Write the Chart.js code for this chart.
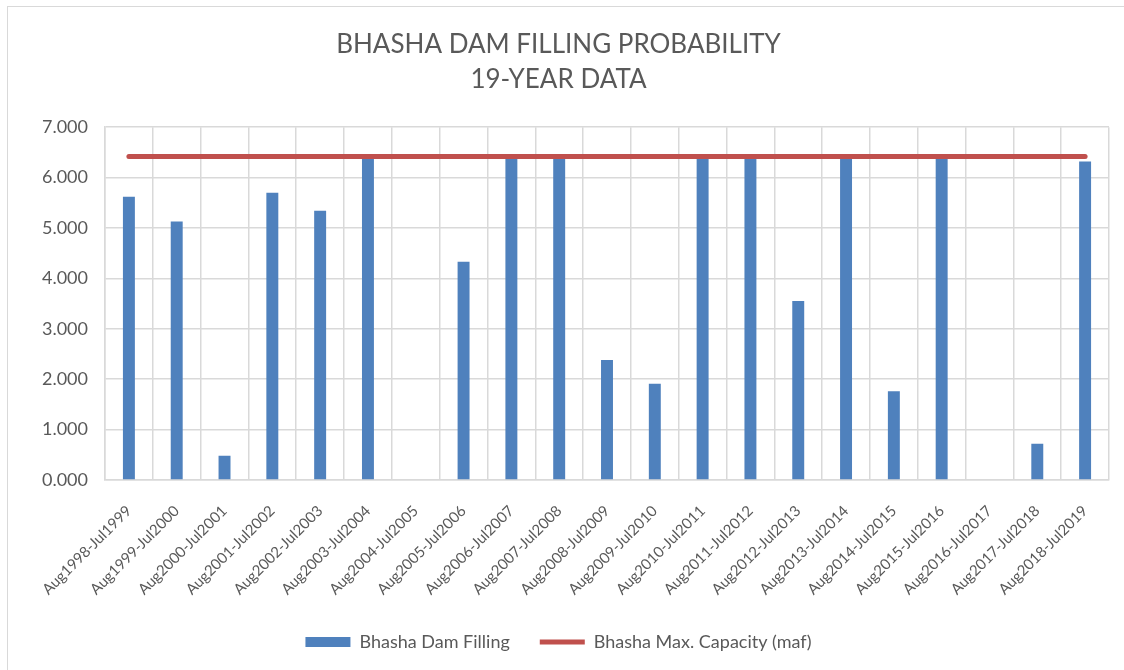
<!DOCTYPE html>
<html>
<head>
<meta charset="utf-8">
<script src="https://cdn.jsdelivr.net/npm/chart.js@4"></script>
<style>
  html, body { margin: 0; padding: 0; background: #fff; overflow: hidden; }
  #wrap { position: absolute; left: 7px; top: 6px; width: 1130px; height: 680px; border-left: 1.5px solid #d9d9d9; border-top: 1.5px solid #d9d9d9; }
  canvas { position: absolute; left: 0; top: 0; }
</style>
</head>
<body>
<div id="wrap"><canvas id="chart" width="1116" height="663"></canvas></div>
<script>
// Hydrological years
const periods = [
    'Aug1998-Jul1999', 'Aug1999-Jul2000', 'Aug2000-Jul2001', 'Aug2001-Jul2002',
    'Aug2002-Jul2003', 'Aug2003-Jul2004', 'Aug2004-Jul2005', 'Aug2005-Jul2006',
    'Aug2006-Jul2007', 'Aug2007-Jul2008', 'Aug2008-Jul2009', 'Aug2009-Jul2010',
    'Aug2010-Jul2011', 'Aug2011-Jul2012', 'Aug2012-Jul2013', 'Aug2013-Jul2014',
    'Aug2014-Jul2015', 'Aug2015-Jul2016', 'Aug2016-Jul2017', 'Aug2017-Jul2018',
    'Aug2018-Jul2019'
];

// Filling per year (maf)
const damFilling = [5.62, 5.13, 0.48, 5.70, 5.34, 6.40, 0, 4.33, 6.40, 6.40, 2.38,
    1.91, 6.40, 6.40, 3.55, 6.40, 1.76, 6.40, 0, 0.72, 6.32];

// Max capacity (maf)
const maxCapacity = periods.map(() => 6.42);

const yTicks = [0, 1, 2, 3, 4, 5, 6, 7];

const grey = '#595959';
const gridColor = '#d9d9d9';

document.addEventListener('DOMContentLoaded', function() {
    var ctx = document.getElementById('chart').getContext('2d');
    new Chart(ctx, {
        type: 'bar',
        data: {
            labels: periods,
            datasets: [{
                type: 'line',
                label: 'Bhasha Max. Capacity (maf)',
                data: maxCapacity,
                borderColor: '#c0504d',
                backgroundColor: '#c0504d',
                borderWidth: 5,
                pointRadius: 0,
                pointBorderWidth: 5,
                pointStyle: 'line',
                borderCapStyle: 'round',
                order: 0
            }, {
                label: 'Bhasha Dam Filling',
                data: damFilling,
                backgroundColor: '#4f81bd',
                borderColor: '#4f81bd',
                borderWidth: 0,
                pointStyle: 'rect',
                barPercentage: 0.5,
                categoryPercentage: 0.5,
                order: 1
            }]
        },
        options: {
            responsive: false,
            animation: false,
            layout: { padding: { left: 0, right: 15, top: 20, bottom: 9 } },
            plugins: {
                title: {
                    display: true,
                    text: ['BHASHA DAM FILLING PROBABILITY', '19-YEAR DATA'],
                    color: grey,
                    font: { family: 'Lato', size: 26, weight: 'normal', lineHeight: 1.35 },
                    padding: { top: 0, bottom: 30 }
                },
                legend: {
                    position: 'bottom',
                    reverse: true,
                    labels: {
                        color: grey,
                        font: { family: 'Lato', size: 18 },
                        usePointStyle: true,
                        pointStyleWidth: 45,
                        boxHeight: 10,
                        padding: 30
                    }
                },
                tooltip: { enabled: false }
            },
            scales: {
                x: {
                    grid: { color: gridColor, lineWidth: 1.5, offset: true, drawTicks: false },
                    border: { color: gridColor, width: 1.5 },
                    ticks: {
                        color: grey,
                        font: { family: 'Lato', size: 15 },
                        minRotation: 45,
                        maxRotation: 45,
                        padding: 22
                    },
                    afterFit: function(scale) { scale.height = 123; }
                },
                y: {
                    min: 0,
                    max: 7,
                    afterBuildTicks: function(scale) {
                        scale.ticks = yTicks.map(v => ({ value: v }));
                    },
                    grid: { color: gridColor, lineWidth: 1.5, drawTicks: false },
                    border: { color: gridColor, width: 1.5 },
                    ticks: {
                        color: grey,
                        font: { family: 'Lato', size: 18 },
                        padding: 17,
                        callback: v => v.toFixed(3)
                    },
                    afterFit: function(scale) { scale.width = 97; }
                }
            }
        }
    });
});
</script>
</body>
</html>
